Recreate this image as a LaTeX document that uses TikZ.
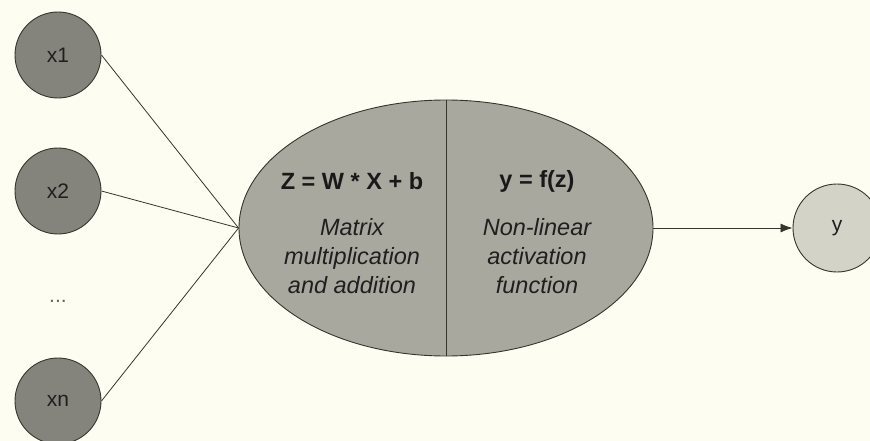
\documentclass[tikz,border=0pt]{standalone}
\usepackage{fontspec}
\setmainfont{Liberation Sans}
\usetikzlibrary{shapes.geometric,arrows.meta}
\definecolor{bgc}{HTML}{FDFDF2}
\definecolor{incol}{HTML}{85847C}
\definecolor{neucol}{HTML}{A9A89F}
\definecolor{outcol}{HTML}{D3D3C8}
\definecolor{edgecol}{HTML}{35352F}
\tikzset{
  inunit/.style={circle, draw=edgecol, line width=0.9pt, fill=incol, minimum size=86pt, inner sep=0pt, font=\fontsize{21}{25}\selectfont, text=black!88},
  outunit/.style={circle, draw=edgecol, line width=0.9pt, fill=outcol, minimum size=88pt, inner sep=0pt, font=\fontsize{21}{25}\selectfont, text=black!88},
  neuron/.style={ellipse, draw=edgecol, line width=0.9pt, fill=neucol, minimum width=414pt, minimum height=256pt, inner sep=0pt},
  eqlabel/.style={font=\fontsize{23.5}{28}\selectfont\bfseries, text=black!90},
  desclabel/.style={align=center, font=\fontsize{23.5}{29}\selectfont\itshape, text=black!88},
  conn/.style={draw=edgecol, line width=0.8pt},
}
\begin{document}
\begin{tikzpicture}[x=1pt,y=-1pt]
\useasboundingbox (0,0) rectangle (870,441);
\fill[bgc] (0,0) rectangle (870,441);
\node[inunit] (x1) at (58,55) {x1};
\node[inunit] (x2) at (58,191) {x2};
\node[font=\fontsize{21}{25}\selectfont, text=black!60] (dots) at (58,301) {...};
\node[inunit] (xn) at (58,401) {xn};
\node[neuron] (neu) at (446,228) {};
\draw[conn] (neu.north) -- (neu.south);
\node[outunit] (y) at (837,228) {\raisebox{-3pt}{y}};
\node[eqlabel] (eqz) at (352,181) {Z = W * X + b};
\node[eqlabel] (eqy) at (537,181) {y = f(z)};
\node[desclabel] (d1) at (352,256) {Matrix\\multiplication\\and addition};
\node[desclabel] (d2) at (537,256) {Non-linear\\activation\\function};
\draw[conn] (x1.east) -- (neu.west);
\draw[conn] (x2.east) -- (neu.west);
\draw[conn] (xn.east) -- (neu.west);
\draw[conn, -{Latex[length=12pt,width=9pt]}] (neu.east) -- (y.west);
\end{tikzpicture}
\end{document}
